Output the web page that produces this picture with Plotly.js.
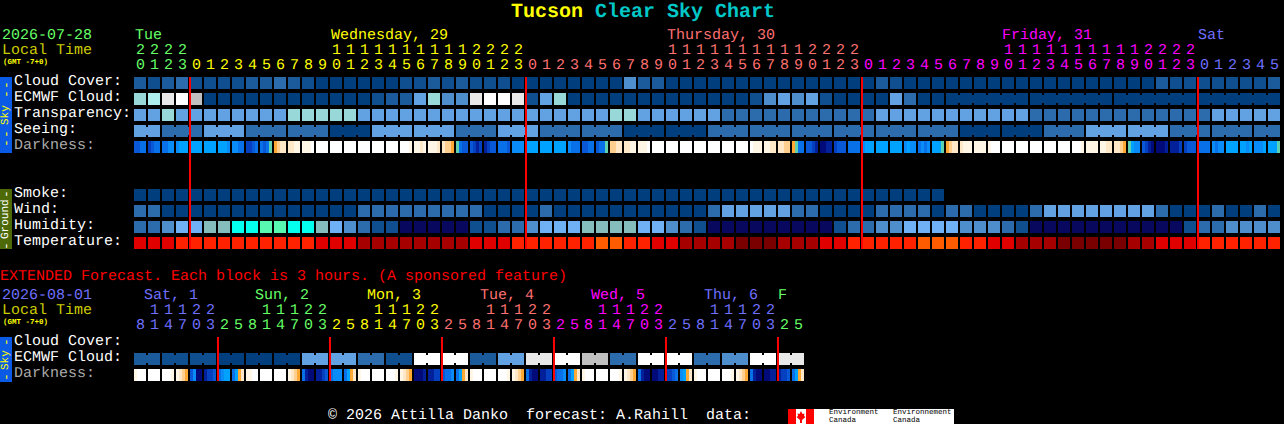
<!DOCTYPE html>
<html><head><meta charset="utf-8">
<script src="https://cdn.plot.ly/plotly-3.0.1.min.js"></script>
<style>html,body{margin:0;padding:0;background:#000;overflow:hidden}#chart{width:1284px;height:424px}
svg text{text-rendering:geometricPrecision}</style>
</head><body><div id="chart"></div>
<script>
// ---- palettes (level -> colour) ----
const cloudPalette = ['#003e7e','#0f4f8f','#1b5b9b','#2c6cac','#4e8ecd','#62a2e2','#98d8d8','#aeeeee','#c0c0c0','#e8e8e8','#ffffff'];
const humidityPalette = ['#08085f','#0f4f8f','#2c6cac','#4e8ecd','#70b0f5','#85bdbd','#58f8b0','#05ffee'];
const temperaturePalette = ['#7a0000','#a60000','#e00000','#ff2200','#ff5c00'];
const darknessPalette = ['#ffffff','#fff6e6','#ffe8c8','#ffcf90','#ffa833','#5fd0b0','#00a2ff','#0a8cf8','#0870e8','#0858d8','#0440c0','#02209a','#000a78'];

// ---- forecast rows, 82 hourly blocks ----
const cloudCover = [2,1,2,3,1,1,1,1,2,2,3,2,1,0,0,0,0,0,0,1,1,2,1,2,1,1,1,0,0,0,0,0,0,0,0,4,2,2,0,0,0,0,0,0,0,0,0,0,0,0,0,0,0,2,1,0,0,0,0,0,0,0,0,0,0,0,0,0,0,0,0,0,0,2,1,1,1,1,1,1,1,2];
const ecmwfCloud = [6,7,9,10,8,0,0,0,0,0,0,0,0,0,0,0,0,1,2,2,5,6,4,4,9,10,10,9,1,5,6,0,0,0,0,0,0,0,0,0,0,0,0,0,1,4,5,4,5,1,0,0,0,0,5,3,0,0,0,0,0,0,0,0,0,0,0,0,0,0,0,0,0,0,0,0,0,0,0,0,0,0];
const transparency = [5,5,6,5,5,5,5,5,5,5,5,6,6,6,6,6,5,5,5,5,5,5,5,5,5,5,5,5,5,5,5,5,5,5,6,6,5,5,5,5,5,5,3,3,3,3,3,3,3,3,3,3,3,5,5,5,5,5,5,5,5,5,5,5,3,3,3,3,3,3,3,3,3,3,3,3,3,5,5,5,5,5];
const seeing = [5,5,3,3,3,5,5,5,3,3,3,3,3,3,0,0,0,5,5,5,5,5,5,3,3,3,5,5,5,3,3,3,3,3,3,0,0,0,0,0,0,3,3,3,3,3,3,3,3,3,3,3,3,3,3,3,3,3,3,0,0,0,0,0,0,3,3,3,5,5,5,5,5,5,3,3,3,3,3,3,3,3];
const smoke = [0,0,0,0,0,0,0,0,0,0,0,0,0,0,0,0,0,0,0,0,0,0,0,0,0,0,0,0,0,0,0,0,0,0,0,0,0,0,0,0,0,0,0,0,0,0,0,0,0,0,0,0,0,0,0,0,0,0];
const wind = [3,3,0,0,0,0,0,0,0,0,0,0,0,0,0,0,3,3,3,3,3,3,3,3,3,0,0,0,0,3,0,0,0,0,0,0,0,0,0,0,0,3,5,5,5,5,5,3,3,0,0,0,0,3,3,3,3,0,3,3,0,0,0,0,3,5,5,5,5,5,5,5,5,3,0,0,0,3,0,0,3,0];
const humidity = [2,2,3,4,4,5,5,7,7,6,6,7,7,5,4,3,2,1,1,0,0,0,0,0,1,1,2,2,3,4,4,4,5,5,5,5,4,4,3,2,1,0,0,0,0,0,0,0,0,0,1,2,2,3,3,4,4,4,4,3,3,3,2,1,0,0,0,0,0,0,0,0,0,0,0,1,2,2,3,3,3,3];
const temperature = [2,2,2,3,3,3,3,3,3,3,3,3,3,2,2,2,1,1,1,1,1,1,1,1,2,2,2,3,3,3,3,3,3,4,4,3,3,2,2,1,1,1,1,0,0,0,1,1,1,2,2,3,3,3,3,3,4,4,4,3,3,2,2,1,1,1,0,0,0,0,0,1,1,2,2,2,3,3,3,3,3,3];
// darkness: four samples across each block
const darkness = [
[9,9,8,8],[10,9,8,8],[8,8,7,7],[7,6,6,6],[6,6,6,6],[6,6,6,6],[6,6,6,7],[7,7,8,8],[10,10,9,8],[8,9,8,5],
[4,3,2,2],[2,2,1,1],[1,1,1,0],[0,0,0,0],[0,0,0,0],[0,0,0,0],[0,0,0,0],[0,0,0,0],[0,0,0,0],[0,0,0,1],
[1,1,2,1],[1,1,1,2],[2,3,3,4],[5,8,9,9],[9,10,11,10],[11,10,9,9],[8,8,8,9],[7,7,7,7],[6,6,6,6],[6,6,6,6],
[6,6,6,6],[7,8,8,8],[9,9,8,8],[9,8,8,5],[3,3,2,2],[2,2,1,1],[1,1,1,0],[0,0,0,0],[0,0,0,0],[0,0,0,0],
[0,0,0,0],[0,0,0,0],[0,0,0,0],[0,0,0,0],[0,1,1,1],[1,1,2,2],[2,2,3,3],[4,5,8,8],[9,9,10,11],[12,12,11,11],
[10,9,9,9],[8,8,8,8],[7,6,6,6],[6,6,6,6],[6,6,6,6],[7,6,7,7],[8,7,8,7],[6,6,6,5],[4,3,2,2],[2,1,1,1],
[1,1,1,1],[1,0,0,0],[0,0,0,0],[0,0,0,0],[0,0,0,0],[0,0,0,0],[0,0,0,0],[0,0,0,1],[1,1,1,1],[1,1,2,2],
[2,2,3,4],[5,6,7,7],[9,10,11,12],[12,12,12,11],[11,11,11,10],[10,9,9,9],[8,8,8,8],[7,8,7,7],[6,6,6,6],[6,6,7,6],
[7,7,7,6],[6,6,6,5]];

// ---- extended forecast, 48 three-hour blocks ----
const extEcmwf = [2,2,1,1,1,1,0,0,0,0,0,0,5,5,5,5,3,3,1,1,10,10,10,10,2,2,5,5,9,9,10,10,8,8,3,3,10,10,10,10,3,3,4,4,10,10,9,9];
const extDarkness = [
[1,0,0,0],[0,0,0,0],[0,0,0,1],[1,2,3,4],[9,7,12,12],[11,10,10,9],[8,7,6,6],[8,6,4,2],
[1,1,0,0],[0,0,0,0],[0,0,0,0],[1,2,3,4],[8,11,12,12],[11,11,10,9],[8,7,7,7],[8,6,4,2],
[1,0,0,0],[0,0,0,0],[0,0,0,1],[1,2,3,4],[12,12,12,11],[11,11,10,10],[9,8,8,7],[8,6,4,2],
[1,0,0,0],[0,0,0,0],[0,0,0,1],[1,2,3,4],[8,11,12,12],[11,11,10,10],[9,8,8,7],[8,6,4,2],
[1,0,0,0],[0,0,0,0],[0,0,0,1],[1,2,3,4],[8,11,12,12],[12,12,11,11],[10,10,9,8],[7,6,4,2],
[1,0,0,0],[0,0,0,0],[0,0,0,1],[1,2,3,4],[8,11,12,12],[12,12,11,11],[11,10,10,9],[8,6,4,2]];

// ---- labels ----
const rowLabels = ['Cloud Cover:','ECMWF Cloud:','Transparency:','Seeing:','Darkness:'];
const groundLabels = ['Smoke:','Wind:','Humidity:','Temperature:'];
const hourLabels = [20,21,22,23,0,1,2,3,4,5,6,7,8,9,10,11,12,13,14,15,16,17,18,19,20,21,22,23,0,1,2,3,4,5,6,7,8,9,10,11,12,13,14,15,16,17,18,19,20,21,22,23,0,1,2,3,4,5,6,7,8,9,10,11,12,13,14,15,16,17,18,19,20,21,22,23,0,1,2,3,4,5];
const extHourLabels = [8,11,14,17,20,23,2,5,8,11,14,17,20,23,2,5,8,11,14,17,20,23,2,5,8,11,14,17,20,23,2,5,8,11,14,17,20,23,2,5,8,11,14,17,20,23,2,5];
const dayNames = ['Tue','Wednesday, 29','Thursday, 30','Friday, 31','Sat'];
const extDayNames = ['Sat, 1','Sun, 2','Mon, 3','Tue, 4','Wed, 5','Thu, 6','F'];

// ---- page geometry: 1 block = 14 px, 1 row = 16 px ----
const W=1284, H=424;
const xc = px => (px-140)/14, yr = py => (py-83)/16;
const GREEN='#66ff66', YEL='#ffff00', SALMON='#ff7070', MAG='#ff00ff', BLUE='#7070ff';
const dayColors=[GREEN,YEL,SALMON,MAG,BLUE];
const extDayColors=[BLUE,GREEN,YEL,SALMON,MAG,BLUE,GREEN];
const BW=12/14, BH=0.75;
const traces=[];
function rowTrace(vals,pal,r,name){
  traces.push({type:'bar',name,x:vals.map((_,i)=>i),y:vals.map(()=>BH),base:r-BH/2,width:BW,
    marker:{color:vals.map(v=>pal[v]),line:{width:0}},hoverinfo:'skip'});
}
function connectors(vals,pal,r,joined,name){
  const xs=[],cs=[];
  for(let i=0;i<vals.length-1;i++) if(joined(i)){xs.push(i+0.5);cs.push(pal[vals[i]]);}
  traces.push({type:'bar',name,x:xs,y:xs.map(()=>0.5),base:r-0.25,width:2/14,
    marker:{color:cs,line:{width:0}},hoverinfo:'skip'});
}
function gradTrace(cells,r,name){
  const xs=[],cs=[];
  cells.forEach((c,i)=>c.forEach((v,s)=>{xs.push(i-6/14+(s+0.5)*3/14);cs.push(darknessPalette[v]);}));
  traces.push({type:'bar',name,x:xs,y:xs.map(()=>BH),base:r-BH/2,width:3/14,
    marker:{color:cs,line:{width:0}},hoverinfo:'skip'});
}
rowTrace(cloudCover,cloudPalette,0,'Cloud Cover');
rowTrace(ecmwfCloud,cloudPalette,1,'ECMWF Cloud');
connectors(ecmwfCloud,cloudPalette,1,i=>i>=58&&(i-58)%6!==5,'ECMWF join');
rowTrace(transparency,cloudPalette,2,'Transparency');
rowTrace(seeing,cloudPalette,3,'Seeing');
connectors(seeing,cloudPalette,3,i=>i<1||(i>=2&&(i-2)%3!==2),'Seeing join');
gradTrace(darkness,4,'Darkness');
rowTrace(smoke,cloudPalette,7,'Smoke');
rowTrace(wind,cloudPalette,8,'Wind');
rowTrace(humidity,humidityPalette,9,'Humidity');
rowTrace(temperature,temperaturePalette,10,'Temperature');
const extE=yr(359), extD=yr(375);
rowTrace(extEcmwf,cloudPalette,extE,'Ext ECMWF');
connectors(extEcmwf,cloudPalette,extE,i=>i%2===0,'Ext join');
gradTrace(extDarkness,extD,'Ext Darkness');
// midnight markers
const mid=[0,1,2,3].map(k=>xc(190)+24*k);
traces.push({type:'bar',name:'midnight',x:mid,y:mid.map(()=>yr(249)-yr(77)),base:yr(77),width:2/14,
  marker:{color:'#ff0000',line:{width:0}},hoverinfo:'skip'});
const extMid=[0,1,2,3,4,5].map(k=>xc(218)+8*k);
traces.push({type:'bar',name:'ext midnight',x:extMid,y:extMid.map(()=>yr(381)-yr(337)),base:yr(337),width:2/14,
  marker:{color:'#ff0000',line:{width:0}},hoverinfo:'skip'});

// ---- text ----
const FONT='"Liberation Mono", monospace';
const ann=[];
function T(text,xpx,ypx,color,size,opt){
  ann.push(Object.assign({text:text.replace(/ /g,'\u00a0'),x:xc(xpx),y:yr(ypx),xref:'x',yref:'y',showarrow:false,
    xanchor:'left',yanchor:'middle',borderpad:0,borderwidth:0,
    font:{family:FONT,size:size||15,color}},opt||{}));
}
T('Tucson',511,12,'#ffff00',20,{font:{family:FONT,size:20,color:'#ffff00',weight:'bold'}});
T('Clear Sky Chart',595,12,'#00c8c8',20,{font:{family:FONT,size:20,color:'#00c8c8',weight:'bold'}});
T('2026-07-28',2,35,GREEN);
T('Local Time',2,50,'#cccc00');
T('(GMT -7+0)',3,62,'#ffff00',7.5,{font:{family:'"Liberation Mono"',size:7.5,color:'#ffff00',weight:'bold'}});
T('2026-08-01',2,295,BLUE);
T('Local Time',2,310,'#cccc00');
T('(GMT -7+0)',3,322,'#ffff00',7.5,{font:{family:'"Liberation Mono"',size:7.5,color:'#ffff00',weight:'bold'}});
[135,331,667,1002,1198].forEach((x,i)=>T(dayNames[i],x,35,dayColors[i]));
// hour digits
const topDay=c=> c<4?0: c<28?1: c<52?2: c<76?3:4;
hourLabels.forEach((h,c)=>{
  const col=dayColors[topDay(c)], px=140+14*c;
  T(String(h%10),px,65,col,15,{xanchor:'center'});
  if(h>=10) T(String(Math.floor(h/10)),px,50,col,15,{xanchor:'center'});
});
const extDay=c=> c<6?0: Math.floor((c-6)/8)+1;
extHourLabels.forEach((h,c)=>{
  const col=extDayColors[extDay(c)], px=140+14*c;
  T(String(h%10),px,325,col,15,{xanchor:'center'});
  if(h>=10) T(String(Math.floor(h/10)),px,310,col,15,{xanchor:'center'});
});
[144,255,367,480,591,704,778].forEach((x,i)=>T(extDayNames[i],x,295,extDayColors[i]));
rowLabels.forEach((t,i)=>T(t,14,81+16*i,i===4?'#aaaaaa':'#ffffff'));
groundLabels.forEach((t,i)=>T(t,14,193+16*i,'#ffffff'));
T(rowLabels[0],14,341,'#ffffff');T(rowLabels[1],14,357,'#ffffff');T(rowLabels[4],14,373,'#aaaaaa');
T('EXTENDED Forecast. Each block is 3 hours. (A sponsored feature)',0,276,'#ff0000');
T('\u00a9 2026 Attilla Danko  forecast: A.Rahill  data:',328,415,'#ffffff');
// side strips
function strip(text,ypx,color,size){T(text,6,ypx,color,size||10,{xanchor:'center',textangle:-90,font:{family:FONT,size:size||10,color}});}
strip('Sky',115,'#ffff00',11);[85,94,134,143].forEach(y=>strip('-',y,'#ffff00',13));
strip('Ground',219,'#ffffff',11);[194,246].forEach(y=>strip('-',y,'#ffffff',13));
strip('Sky',360,'#ffff00',11);[342,377].forEach(y=>strip('-',y,'#ffff00',13));
// logo text
const SANS='"Liberation Sans", sans-serif';
[[829,'Environment'],[893,'Environnement']].forEach(([x,t])=>{
  T(t,x,412.5,'#000000',7,{font:{family:'"Liberation Mono", monospace',size:7.5,color:'#000'}});
  T('Canada',x,420.5,'#000000',7,{font:{family:'"Liberation Mono", monospace',size:7.5,color:'#000'}});
});

// ---- strips and logo ----
function rect(x0,y0,x1,y1,color){return {type:'rect',xref:'x',yref:'y',x0:xc(x0),x1:xc(x1),y0:yr(y0),y1:yr(y1),fillcolor:color,line:{width:0},layer:'below'};}
const leaf=[[801,411],[802.5,414],[804.5,413.5],[804,416],[805.5,417],[802,420],[802,423],[800,423],[800,420],[796.5,417],[798,416],[797.5,413.5],[799.5,414]];
const shapes=[rect(0,77,12,153,'#0a5ae6'),rect(0,189,12,249,'#4e6a08'),rect(0,337,12,382,'#0a5ae6'),
  rect(788,409,796,424,'#ff0000'),rect(796,409,806,424,'#ffffff'),rect(806,409,814,424,'#ff0000'),rect(814,409,954,424,'#ffffff'),
  {type:'path',xref:'x',yref:'y',layer:'below',fillcolor:'#ff0000',line:{width:0},
   path:'M'+leaf.map(p=>xc(p[0])+','+yr(p[1])).join(' L')+' Z'}];

Plotly.newPlot('chart',traces,{
  width:W,height:H,margin:{l:0,r:0,t:0,b:0,pad:0},paper_bgcolor:'#000',plot_bgcolor:'#000',
  barmode:'overlay',showlegend:false,hovermode:false,
  xaxis:{range:[xc(0),xc(W)],visible:false,fixedrange:true},
  yaxis:{range:[yr(H),yr(0)],visible:false,fixedrange:true},
  annotations:ann,shapes
},{staticPlot:true,displayModeBar:false});
</script></body></html>
